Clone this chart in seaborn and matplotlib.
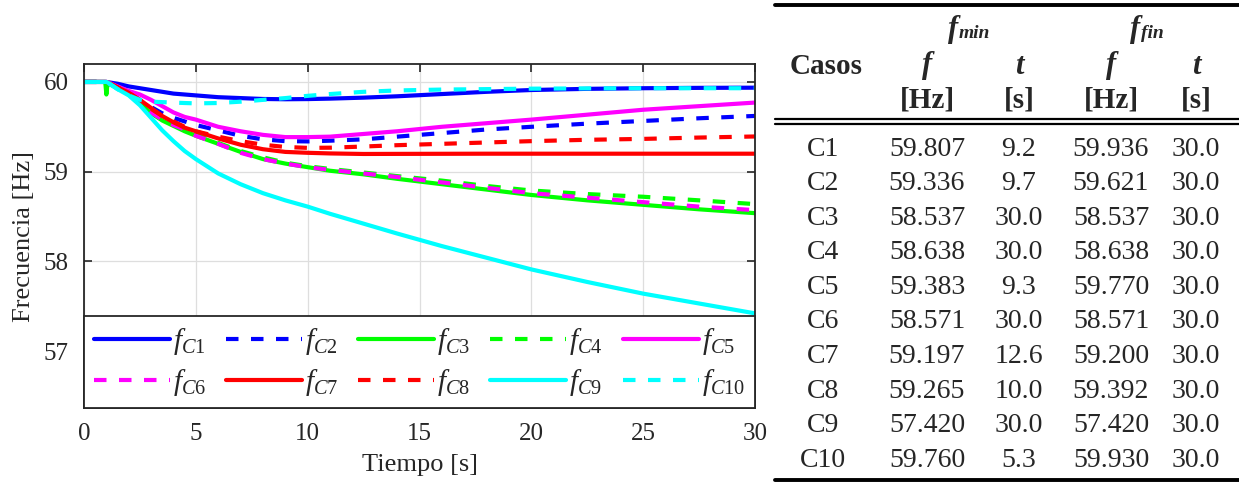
import numpy as np
import pandas as pd
import matplotlib
matplotlib.use("Agg")
import matplotlib.pyplot as plt
import seaborn as sns
from matplotlib.lines import Line2D

# ---- time base [s] ----
tiempo = [0, 0.95, 1.0, 1.05, 1.5, 2, 2.5, 3, 3.5, 4, 4.5, 5, 6, 7, 8, 9, 10,
          11, 12.5, 14, 16, 18, 20, 22.5, 25, 27.5, 30]

# ---- frequency traces [Hz] ----
f_c1 = [60, 60, 60, 59.998, 59.98, 59.95, 59.93, 59.91, 59.89, 59.87, 59.86, 59.85,
        59.83, 59.82, 59.81, 59.807, 59.809, 59.814, 59.825, 59.84, 59.865, 59.89,
        59.91, 59.923, 59.93, 59.934, 59.936]
f_c2 = [60, 60, 60, 59.995, 59.95, 59.88, 59.80, 59.72, 59.65, 59.60, 59.56, 59.52,
        59.46, 59.40, 59.36, 59.34, 59.337, 59.345, 59.36, 59.39, 59.43, 59.47,
        59.50, 59.535, 59.565, 59.595, 59.621]
f_c3 = [60, 60, 59.86, 59.98, 59.94, 59.86, 59.76, 59.65, 59.57, 59.51, 59.45, 59.40,
        59.31, 59.22, 59.14, 59.09, 59.05, 59.01, 58.97, 58.92, 58.86, 58.80,
        58.74, 58.68, 58.63, 58.58, 58.537]
f_c4 = [60, 60, 60, 59.995, 59.94, 59.86, 59.76, 59.66, 59.58, 59.52, 59.46, 59.41,
        59.32, 59.23, 59.16, 59.10, 59.06, 59.03, 58.99, 58.95, 58.90, 58.84,
        58.79, 58.75, 58.72, 58.68, 58.638]
f_c5 = [60, 60, 60, 59.997, 59.95, 59.90, 59.86, 59.80, 59.73, 59.66, 59.61, 59.58,
        59.50, 59.45, 59.41, 59.385, 59.385, 59.39, 59.42, 59.45, 59.50, 59.54,
        59.58, 59.635, 59.69, 59.73, 59.77]
f_c6 = [60, 60, 60, 59.995, 59.94, 59.86, 59.76, 59.66, 59.58, 59.52, 59.47, 59.40,
        59.31, 59.21, 59.14, 59.09, 59.05, 59.02, 58.98, 58.94, 58.88, 58.82,
        58.76, 58.71, 58.66, 58.61, 58.571]
f_c7 = [60, 60, 60, 59.995, 59.94, 59.88, 59.80, 59.71, 59.62, 59.55, 59.49, 59.45,
        59.37, 59.30, 59.25, 59.22, 59.21, 59.203, 59.197, 59.198, 59.199, 59.2,
        59.2, 59.2, 59.2, 59.2, 59.2]
f_c8 = [60, 60, 60, 59.995, 59.94, 59.88, 59.79, 59.70, 59.62, 59.56, 59.50, 59.45,
        59.39, 59.34, 59.30, 59.275, 59.265, 59.267, 59.28, 59.295, 59.31, 59.325,
        59.34, 59.355, 59.365, 59.38, 59.392]
f_c9 = [60, 60, 60, 59.995, 59.92, 59.85, 59.74, 59.60, 59.46, 59.34, 59.23, 59.14,
        58.98, 58.86, 58.76, 58.68, 58.61, 58.53, 58.42, 58.31, 58.17, 58.04,
        57.91, 57.77, 57.64, 57.53, 57.42]
f_c10 = [60, 60, 60, 59.995, 59.92, 59.85, 59.80, 59.78, 59.775, 59.77, 59.765, 59.761,
         59.765, 59.78, 59.80, 59.82, 59.845, 59.865, 59.89, 59.905, 59.915, 59.92,
         59.925, 59.928, 59.93, 59.93, 59.93]

series = [f_c1, f_c2, f_c3, f_c4, f_c5, f_c6, f_c7, f_c8, f_c9, f_c10]
etiquetas = [r"$f_{C%d}$" % i for i in range(1, 11)]
colores = ["#0000ff", "#0000ff", "#00ff00", "#00ff00", "#ff00ff",
           "#ff00ff", "#ff0000", "#ff0000", "#00ffff", "#00ffff"]
trazos = ["solid", "dashed", "solid", "dashed", "solid",
          "dashed", "solid", "dashed", "solid", "dashed"]

# ---- summary table ----
casos = ["C1", "C2", "C3", "C4", "C5", "C6", "C7", "C8", "C9", "C10"]
fmin_f = ["59.807", "59.336", "58.537", "58.638", "59.383",
          "58.571", "59.197", "59.265", "57.420", "59.760"]
fmin_t = ["9.2", "9.7", "30.0", "30.0", "9.3", "30.0", "12.6", "10.0", "30.0", "5.3"]
ffin_f = ["59.936", "59.621", "58.537", "58.638", "59.770",
          "58.571", "59.200", "59.392", "57.420", "59.930"]
ffin_t = ["30.0"] * 10

sns.set_style("ticks")
plt.rcParams["font.family"] = ["Liberation Serif", "DejaVu Serif"]
plt.rcParams["mathtext.fontset"] = "custom"
plt.rcParams["mathtext.rm"] = "Liberation Serif"
plt.rcParams["mathtext.it"] = "Liberation Serif:italic"
plt.rcParams["mathtext.bf"] = "Liberation Serif:bold"

W, H = 1239, 482
fig = plt.figure(figsize=(W / 100, H / 100), dpi=100)
ax = fig.add_axes([84 / W, 1 - 408 / H, (755 - 84) / W, (408 - 64) / H])

DASH = (0, (3.0, 3.0))
for vals, col, ls in zip(series, colores, trazos):
    df = pd.DataFrame({"t": tiempo, "f": vals})
    sns.lineplot(data=df, x="t", y="f", ax=ax, color=col, lw=3.0,
                 linestyle=DASH if ls == "dashed" else "-", label=None)

ax.set_xlim(0, 30)
ax.set_ylim(56.365, 60.2)
ax.set_xticks([0, 5, 10, 15, 20, 25, 30])
ax.set_yticks([57, 58, 59, 60])
ax.grid(True, color="#dedede", lw=0.9)
ax.set_axisbelow(True)
ax.tick_params(direction="in", length=6, width=1.2, top=True, right=True,
               labelsize=18, colors="#262626", pad=11)
for sp in ax.spines.values():
    sp.set_visible(True)
    sp.set_color("#262626")
    sp.set_linewidth(1.3)
ax.set_xlabel("Tiempo [s]", fontsize=19, color="#262626", labelpad=6)
ax.set_ylabel("Frecuencia [Hz]", fontsize=19, color="#262626", labelpad=6)

# legend filled row by row: C1..C5 on top, C6..C10 below
handles = [Line2D([0], [0], color=c, lw=3.0, linestyle=DASH if s == "dashed" else "-")
           for c, s in zip(colores, trazos)]
orden = [0, 5, 1, 6, 2, 7, 3, 8, 4, 9]
leg = ax.legend([handles[i] for i in orden], [etiquetas[i] for i in orden],
                ncol=5, loc="lower left",
                bbox_to_anchor=(0, 0, 1, 0.25), mode="expand", borderaxespad=0,
                fontsize=21, handlelength=2.6, handletextpad=0.1,
                columnspacing=0.3, labelspacing=0.32, borderpad=0.35, frameon=True,
                fancybox=False, framealpha=1, edgecolor="#262626")
leg.get_frame().set_linewidth(1.3)

# ---- table drawn on the right ----
def fx(px):
    return px / W

def fy(py):
    return 1 - py / H

def rule(y, lw):
    fig.add_artist(Line2D([fx(775), fx(1239)], [fy(y), fy(y)], color="black", lw=lw))

rule(5, 2.8)
rule(118.5, 1.6)
rule(123.5, 1.6)
rule(480, 2.8)

TS = 20
col_x = [823, 927, 1019, 1111, 1196]
# header
for cx, txt in [(958, "f"), (1140, "f")]:
    fig.text(fx(cx), fy(29), txt, fontsize=22, fontweight="bold", fontstyle="italic",
             ha="right", va="center")
fig.text(fx(959), fy(33), "min", fontsize=14, fontweight="bold", fontstyle="italic",
         ha="left", va="center")
fig.text(fx(1141), fy(33), "fin", fontsize=14, fontweight="bold", fontstyle="italic",
         ha="left", va="center")
fig.text(fx(826), fy(66), "Casos", fontsize=21, fontweight="bold", ha="center", va="center")
for cx, txt in zip(col_x[1:], ["f", "t", "f", "t"]):
    fig.text(fx(cx), fy(66), txt, fontsize=22, fontweight="bold", fontstyle="italic",
             ha="center", va="center")
for cx, txt in zip(col_x[1:], ["[Hz]", "[s]", "[Hz]", "[s]"]):
    fig.text(fx(cx), fy(100), txt, fontsize=21, fontweight="bold", ha="center", va="center")

# body
for i in range(len(casos)):
    yy = 149 + i * 34.6
    for cx, colvals in zip(col_x, [casos, fmin_f, fmin_t, ffin_f, ffin_t]):
        fig.text(fx(cx), fy(yy), colvals[i], fontsize=TS, ha="center", va="center")

fig.savefig("out.png", dpi=100)
